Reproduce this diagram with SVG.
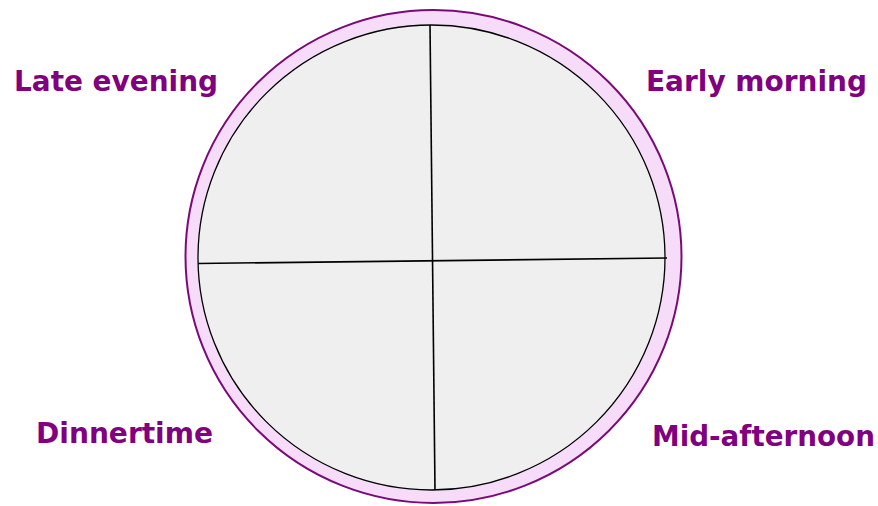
<svg xmlns="http://www.w3.org/2000/svg" width="878" height="506" viewBox="0 0 878 506">
<style>
.lbl{font-family:"DejaVu Sans","Verdana",sans-serif;font-weight:bold;font-size:28px;fill:#800080}
.ln{stroke:#000;stroke-width:1.6;fill:none}
</style>
<rect width="878" height="506" fill="#fff"/>
<g id="clock">
<ellipse cx="433.5" cy="256.5" rx="248" ry="246.5" fill="#f6dcf8" stroke="#7a0a78" stroke-width="2"/>
<ellipse cx="431.5" cy="257.5" rx="233.5" ry="232.5" fill="#efefef" stroke="#000" stroke-width="1.3"/>
</g>
<g id="connectors">
<line class="ln" x1="430" y1="25" x2="435" y2="490"/>
<line class="ln" x1="198" y1="263.5" x2="667" y2="258"/>
</g>
<g id="late-evening"><text class="lbl" x="14" y="91" textLength="204" lengthAdjust="spacingAndGlyphs">Late evening</text></g>
<g id="early-morning"><text class="lbl" x="646" y="91" textLength="221" lengthAdjust="spacingAndGlyphs">Early morning</text></g>
<g id="dinnertime"><text class="lbl" x="36" y="443" textLength="177" lengthAdjust="spacingAndGlyphs">Dinnertime</text></g>
<g id="mid-afternoon"><text class="lbl" x="652" y="446" textLength="223" lengthAdjust="spacingAndGlyphs">Mid-afternoon</text></g>
</svg>
